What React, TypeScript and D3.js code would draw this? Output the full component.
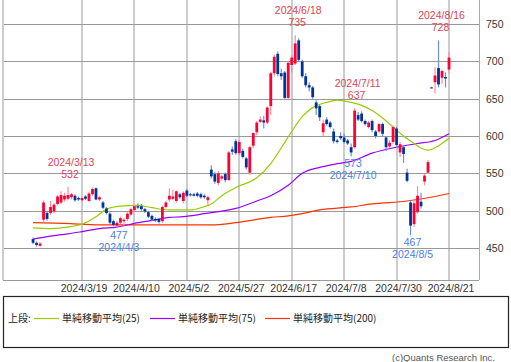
import React, { useEffect, useRef } from 'react'
import * as d3 from 'd3'

// trading days, 2024
const dates = [
  "2/28", "2/29", "3/1", "3/4", "3/5", "3/6", "3/7", "3/8", "3/11", "3/12",
  "3/13", "3/14", "3/15", "3/18", "3/19", "3/21", "3/22", "3/25", "3/26", "3/27",
  "3/28", "3/29", "4/1", "4/2", "4/3", "4/4", "4/5", "4/8", "4/9", "4/10",
  "4/11", "4/12", "4/15", "4/16", "4/17", "4/18", "4/19", "4/22", "4/23", "4/24",
  "4/25", "4/26", "4/30", "5/1", "5/2", "5/7", "5/8", "5/9", "5/10", "5/13",
  "5/14", "5/15", "5/16", "5/17", "5/20", "5/21", "5/22", "5/23", "5/24", "5/27",
  "5/28", "5/29", "5/30", "5/31", "6/3", "6/4", "6/5", "6/6", "6/7", "6/10",
  "6/11", "6/12", "6/13", "6/14", "6/17", "6/18", "6/19", "6/20", "6/21", "6/24",
  "6/25", "6/26", "6/27", "6/28", "7/1", "7/2", "7/3", "7/4", "7/5", "7/8",
  "7/9", "7/10", "7/11", "7/12", "7/16", "7/17", "7/18", "7/19", "7/22", "7/23",
  "7/24", "7/25", "7/26", "7/29", "7/30", "7/31", "8/1", "8/2", "8/5", "8/6",
  "8/7", "8/8", "8/9", "8/13", "8/14", "8/15", "8/16", "8/19", "8/20", "8/21",
]

const opens = [
  462, 457, 453, 488, 497, 497, 499, 509, 511, 515,
  516, 518, 520, 517, 514, 519, 513, 522, 530, 515,
  511, 503, 496, 486, 480, 484, 486, 489, 495, 501,
  506, 506, 502, 498, 493, 489, 489, 486, 505, 515,
  516, 513, 522, 513, 527, 522, 522, 523, 522, 520,
  514, 555, 549, 537, 543, 549, 541, 582, 593, 577,
  580, 570, 551, 587, 605, 619, 621, 618, 640, 684,
  710, 684, 685, 651, 695, 697, 728, 700, 680, 668,
  665, 645, 640, 605, 622, 618, 606, 594, 600, 598,
  594, 585, 585, 628, 630, 620, 612, 620, 606, 606,
  616, 598, 586, 592, 610, 578, 585, 551, 511, 482,
  498, 512, 539, 551, 665, 672, 691, 678, 679, 689,
]
const highs = [
  464, 459, 458, 514, 500, 513, 510, 521, 526, 524,
  532, 524, 522, 519, 518, 521, 525, 531, 531, 520,
  513, 505, 498, 488, 486, 492, 490, 498, 504, 508,
  510, 509, 504, 500, 495, 491, 490, 507, 513, 530,
  528, 527, 524, 526, 529, 524, 524, 525, 524, 522,
  520, 561, 552, 553, 548, 551, 580, 586, 596, 595,
  583, 572, 587, 605, 620, 626, 627, 640, 686, 709,
  713, 690, 687, 700, 708, 735, 731, 702, 684, 672,
  667, 648, 642, 622, 625, 620, 610, 596, 605, 603,
  596, 590, 637, 632, 633, 622, 620, 622, 608, 618,
  618, 600, 594, 614, 612, 592, 588, 556, 514, 514,
  533, 524, 549, 568, 666, 692, 728, 689, 685, 712,
]
const lows = [
  455, 452, 452, 484, 487, 494, 497, 507, 509, 512,
  514, 515, 512, 513, 512, 514, 512, 520, 514, 513,
  502, 495, 482, 479, 477, 482, 480, 486, 493, 499,
  502, 500, 497, 490, 486, 485, 483, 484, 503, 512,
  514, 511, 516, 510, 518, 519, 519, 518, 516, 516,
  508, 543, 536, 534, 540, 538, 540, 575, 575, 574,
  570, 555, 548, 584, 601, 617, 610, 616, 628, 680,
  680, 675, 650, 650, 685, 695, 700, 678, 665, 660,
  650, 628, 620, 600, 614, 610, 590, 590, 595, 590,
  588, 573, 583, 620, 618, 614, 610, 605, 597, 604,
  600, 580, 584, 590, 584, 572, 564, 538, 467, 478,
  496, 503, 534, 549, 664, 657, 665, 670, 665, 684,
]
const closes = [
  457, 454, 456, 511, 489, 505, 508, 519, 521, 520,
  521, 522, 514, 515, 517, 516, 523, 529, 515, 518,
  504, 497, 484, 481, 484, 490, 488, 496, 502, 506,
  504, 502, 499, 492, 488, 487, 485, 505, 511, 520,
  519, 526, 518, 524, 520, 521, 520, 520, 518, 518,
  518, 546, 539, 550, 546, 541, 578, 579, 577, 592,
  572, 558, 585, 604, 618, 622, 618, 638, 684, 706,
  683, 680, 651, 698, 705, 724, 702, 680, 668, 665,
  652, 637, 625, 617, 616, 612, 593, 592, 597, 592,
  590, 578, 634, 622, 620, 616, 618, 608, 600, 616,
  603, 585, 591, 612, 588, 589, 576, 540, 480, 510,
  520, 506, 547, 565, 665, 681, 669, 687, 677, 705,
]

// moving averages
const ma25Dates = ["2/28", "3/6", "3/14", "3/19", "3/26", "3/29", "4/4", "4/11", "4/17", "4/24", "5/7", "5/10", "5/15", "5/20", "5/24", "6/3", "6/7", "6/12", "6/17", "6/20", "6/25", "7/1", "7/4", "7/10", "7/16", "7/19", "7/24", "7/29", "8/1", "8/6", "8/8", "8/13", "8/16", "8/21"]
const ma25Values = [477, 476, 479, 482, 492, 502, 506, 507, 504, 501, 501, 504, 509, 520, 531, 544, 563, 584, 606, 626, 638, 645, 648, 645, 641, 634, 624, 612, 600, 590, 584, 581, 587, 597]

const ma75Dates = ["2/28", "3/6", "3/13", "3/19", "3/27", "4/3", "4/10", "4/17", "4/24", "5/1", "5/13", "5/24", "6/3", "6/7", "6/14", "6/20", "6/27", "7/4", "7/10", "7/19", "7/30", "8/7", "8/15", "8/21"]
const ma75Values = [462, 466, 469, 472, 476, 478, 483, 487, 491, 492, 496, 503, 513, 520, 534, 550, 558, 563, 566, 577, 585, 590, 594, 603]

const ma200Dates = ["2/28", "3/12", "3/27", "4/24", "5/15", "5/24", "6/7", "6/14", "6/20", "6/27", "7/10", "7/19", "8/2", "8/15", "8/21"]
const ma200Values = [484, 483, 481, 481, 481, 484, 491, 493, 496, 501, 505, 509, 513, 519, 523]

const yTicks = [450, 500, 550, 600, 650, 700, 750]
const xTickDates = ["3/19", "4/10", "5/2", "5/27", "6/17", "7/8", "7/30", "8/21"]
const highLabelDates = ["3/13", "6/18", "7/11", "8/16"]
const lowLabelDates = ["4/3", "7/10", "8/5"]

const legendNames = ["単純移動平均(25)", "単純移動平均(75)", "単純移動平均(200)"]
const legendColors = ["#99cc00", "#9900ff", "#ff3300"]

function App() {
  const ref = useRef<SVGSVGElement>(null)

  useEffect(() => {
    const svg = d3.select(ref.current)
    svg.selectAll('*').remove()

    const left = 3, right = 479, bottom = 280
    const font = '"Liberation Sans", Arial, sans-serif'
    const jp = '"Noto Sans CJK JP", sans-serif'

    const x = d3.scaleBand<string>().domain(dates).range([31.32, 450.75])
    const cx = (d: string) => (x(d) as number) + x.bandwidth() / 2
    const y = d3.scaleLinear().domain([407.2, 782.1]).range([bottom, 0])

    // grid
    svg.append('g')
      .selectAll('line')
      .data(xTickDates)
      .enter()
      .append('line')
      .attr('x1', d => Math.round(cx(d)))
      .attr('x2', d => Math.round(cx(d)))
      .attr('y1', 0)
      .attr('y2', bottom)
      .attr('stroke', '#cccccc')
      .attr('stroke-width', 2)

    svg.append('g')
      .selectAll('line')
      .data(yTicks)
      .enter()
      .append('line')
      .attr('x1', left)
      .attr('x2', right)
      .attr('y1', d => Math.round(y(d)) + 0.5)
      .attr('y2', d => Math.round(y(d)) + 0.5)
      .attr('stroke', '#999999')
      .attr('stroke-width', 1)

    // frame
    svg.append('line').attr('x1', left).attr('x2', left).attr('y1', 0).attr('y2', bottom)
      .attr('stroke', '#cccccc').attr('stroke-width', 2)
    svg.append('line').attr('x1', right + 0.5).attr('x2', right + 0.5).attr('y1', 0).attr('y2', bottom)
      .attr('stroke', '#aaaaaa').attr('stroke-width', 1)
    svg.append('line').attr('x1', left).attr('x2', right).attr('y1', bottom + 0.5).attr('y2', bottom + 0.5)
      .attr('stroke', '#999999').attr('stroke-width', 1)

    // moving averages
    const maLine = d3.line<[string, number]>()
      .x(d => cx(d[0]))
      .y(d => y(d[1]))
      .curve(d3.curveMonotoneX)

    const series: [string[], number[], string][] = [
      [ma200Dates, ma200Values, legendColors[2]],
      [ma75Dates, ma75Values, legendColors[1]],
      [ma25Dates, ma25Values, legendColors[0]],
    ]
    series.forEach(([ds, vs, c]) => {
      svg.append('path')
        .attr('d', maLine(ds.map((d, i) => [d, vs[i]] as [string, number])))
        .attr('fill', 'none')
        .attr('stroke', c)
        .attr('stroke-width', 1.2)
    })

    // candles
    const bw = 2.8
    const candles = svg.append('g')
      .selectAll('g')
      .data(dates)
      .enter()
      .append('g')

    candles.append('line')
      .attr('x1', d => cx(d))
      .attr('x2', d => cx(d))
      .attr('y1', (d, i) => y(highs[i]))
      .attr('y2', (d, i) => y(lows[i]))
      .attr('stroke', (d, i) => closes[i] > opens[i] ? '#ff8c9e' : '#6f8fd6')
      .attr('stroke-width', 1.2)

    candles.append('rect')
      .attr('x', d => cx(d) - bw / 2)
      .attr('width', bw)
      .attr('y', (d, i) => y(Math.max(opens[i], closes[i])))
      .attr('height', (d, i) => Math.max(1, Math.abs(y(opens[i]) - y(closes[i]))))
      .attr('fill', (d, i) => closes[i] > opens[i] ? '#ff0033' : '#003399')

    // high / low notes
    highLabelDates.forEach(d => {
      const i = dates.indexOf(d)
      const yy = y(highs[i])
      const g = svg.append('g')
        .attr('fill', '#dd4455')
        .attr('font-family', font)
        .attr('font-size', 10.5)
        .attr('text-anchor', 'middle')
      g.append('text').attr('x', cx(d) + 3).attr('y', yy - 21).text('2024/' + d)
      g.append('text').attr('x', cx(d) + 2).attr('y', yy - 9).text(highs[i])
    })

    lowLabelDates.forEach(d => {
      const i = dates.indexOf(d)
      const yy = y(lows[i])
      const g = svg.append('g')
        .attr('fill', '#4a80e8')
        .attr('font-family', font)
        .attr('font-size', 10.5)
        .attr('text-anchor', 'middle')
      g.append('text').attr('x', cx(d) + 2).attr('y', yy + 11).text(lows[i])
      g.append('text').attr('x', cx(d) + 2).attr('y', yy + 23).text('2024/' + d)
    })

    // axes labels
    svg.append('g')
      .selectAll('text')
      .data(yTicks)
      .enter()
      .append('text')
      .attr('x', 486)
      .attr('y', d => y(d) + 4)
      .attr('font-family', font)
      .attr('font-size', 10.5)
      .attr('fill', '#333')
      .text(d => d)

    svg.append('g')
      .selectAll('text')
      .data(xTickDates)
      .enter()
      .append('text')
      .attr('x', d => cx(d) + 2)
      .attr('y', 292)
      .attr('text-anchor', 'middle')
      .attr('font-family', font)
      .attr('font-size', 10.5)
      .attr('fill', '#333')
      .text(d => '2024/' + d)

    // legend
    svg.append('rect')
      .attr('x', 3.5).attr('y', 296.5)
      .attr('width', 505).attr('height', 51)
      .attr('fill', 'none')
      .attr('stroke', '#222')
      .attr('stroke-width', 1.2)

    svg.append('text')
      .attr('x', 8).attr('y', 322)
      .attr('font-family', jp).attr('font-size', 10)
      .attr('fill', '#222')
      .text('上段:')

    const legendX = [34, 150, 265]
    legendNames.forEach((name, i) => {
      svg.append('line')
        .attr('x1', legendX[i]).attr('x2', legendX[i] + 25)
        .attr('y1', 318.5).attr('y2', 318.5)
        .attr('stroke', legendColors[i])
        .attr('stroke-width', 1.2)
      svg.append('text')
        .attr('x', legendX[i] + 28).attr('y', 322)
        .attr('font-family', jp).attr('font-size', 10)
        .attr('fill', '#222')
        .text(name)
    })

    svg.append('text')
      .attr('x', 495).attr('y', 361)
      .attr('text-anchor', 'end')
      .attr('font-family', font).attr('font-size', 9.5)
      .attr('fill', '#555')
      .text('(c)Quants Research Inc.')
  }, [])

  return (
    <svg ref={ref} width={511} height={362}
      style={{ position: 'absolute', left: 0, top: 0, background: '#fff' }}></svg>
  )
}

export default App
